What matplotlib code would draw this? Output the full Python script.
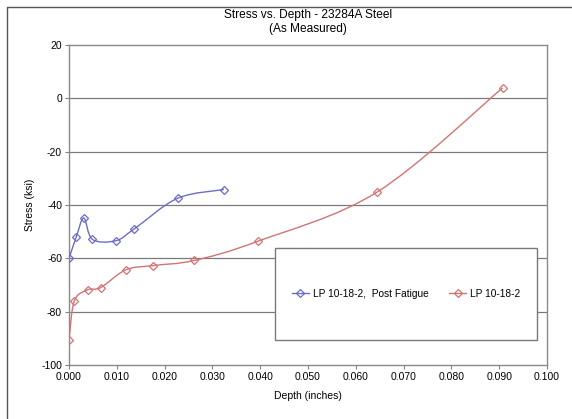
import numpy as np
import matplotlib
matplotlib.use("Agg")
import matplotlib.pyplot as plt
from matplotlib.path import Path
from matplotlib.patches import PathPatch, Rectangle
from matplotlib.lines import Line2D

plt.rcParams['font.family'] = ['Liberation Sans', 'DejaVu Sans']
plt.rcParams['axes.unicode_minus'] = False

# Data
post_depth = [0.0, 0.0015, 0.0031, 0.0049, 0.0098, 0.0137, 0.0227, 0.0324]
post_stress = [-60.0, -52.1, -44.9, -52.9, -53.4, -48.9, -37.5, -34.2]
base_depth = [0.0, 0.0011, 0.0039, 0.0066, 0.0119, 0.0176, 0.0262, 0.0395, 0.0645, 0.0907]
base_stress = [-90.8, -76.0, -71.8, -71.0, -64.3, -62.7, -60.8, -53.6, -35.1, 3.9]
series_labels = ['LP 10-18-2,  Post Fatigue', 'LP 10-18-2']
x_ticks = [0.0, 0.01, 0.02, 0.03, 0.04, 0.05, 0.06, 0.07, 0.08, 0.09, 0.10]
y_ticks = [-100, -80, -60, -40, -20, 0, 20]

blue = '#6c6cc8'
red = '#d27474'

fig = plt.figure(figsize=(5.72, 4.19), dpi=100)
W, H = 572, 419
ax = fig.add_axes([69 / W, 1 - 365 / H, (547 - 69) / W, (365 - 45) / H])
ax.set_xlim(0, 0.1)
ax.set_ylim(-100, 20)
ax.set_xticks(x_ticks)
ax.set_xticklabels([f'{v:.3f}' for v in x_ticks])
ax.set_yticks(y_ticks)
ax.set_yticklabels([str(v) for v in y_ticks])
ax.tick_params(labelsize=7.5, length=3, color='#808080', pad=2)
for s in ax.spines.values():
    s.set_color('#8a8a8a')
    s.set_linewidth(1.0)
for yv in y_ticks[1:-1]:
    ax.axhline(yv, color='#7a7a7a', lw=0.9, zorder=1)

fig.canvas.draw()


def smooth_path(xs, ys):
    pts = ax.transData.transform(np.column_stack([xs, ys]))
    n = len(pts)
    verts = [pts[0]]
    codes = [Path.MOVETO]
    for i in range(n - 1):
        p0 = pts[i - 1] if i > 0 else pts[i]
        p1 = pts[i]
        p2 = pts[i + 1]
        p3 = pts[i + 2] if i + 2 < n else pts[i + 1]
        c1 = p1 + (p2 - p0) / 6.0
        c2 = p2 - (p3 - p1) / 6.0
        verts += [c1, c2, p2]
        codes += [Path.CURVE4] * 3
    verts = ax.transData.inverted().transform(np.array(verts))
    return Path(verts, codes)


ms = 3.6
for xs, ys, c, lab in [(post_depth, post_stress, blue, series_labels[0]),
                       (base_depth, base_stress, red, series_labels[1])]:
    ax.add_patch(PathPatch(smooth_path(xs, ys), fill=False, edgecolor=c, lw=1.0, zorder=3))
    ax.plot(xs, ys, linestyle='none', marker='D', markersize=ms, markerfacecolor='none',
            markeredgecolor=c, markeredgewidth=0.9, zorder=4)
    ax.plot([], [], color=c, lw=1.0, marker='D', markersize=ms, markerfacecolor='none',
            markeredgecolor=c, markeredgewidth=0.9, label=lab)

# legend box
bx0, by0, bx1, by1 = 275, 248, 537, 340
ax.add_artist(Rectangle((bx0 / W, 1 - by1 / H), (bx1 - bx0) / W, (by1 - by0) / H,
                        transform=fig.transFigure, facecolor='white', edgecolor='#7a7a7a',
                        lw=1.0, zorder=5))
leg = fig.legend(loc='center', bbox_to_anchor=((bx0 + bx1) / 2 / W, 1 - 294 / H),
                 ncol=2, frameon=False, fontsize=7.3, handlelength=1.7, columnspacing=2.0,
                 handletextpad=0.4)
leg.set_zorder(6)

ax.set_xlabel('Depth (inches)', fontsize=7.5)
ax.set_ylabel('Stress (ksi)', fontsize=7.5)
ax.yaxis.set_label_coords(-(69 - 30) / (547 - 69), 0.5)
ax.xaxis.set_label_coords(0.5, -(396 - 365) / (365 - 45))
ax.xaxis.label.set_va('center')
ax.yaxis.label.set_va('center')
fig.text(308 / W, 1 - 22 / H, 'Stress vs. Depth - 23284A Steel\n(As Measured)',
         ha='center', va='center', fontsize=8.6, linespacing=1.2)

# outer chart frame (left and top edges visible)
fig.add_artist(Line2D([7 / W, 7 / W, 1.0], [0.0, 1 - 7 / H, 1 - 7 / H],
                      transform=fig.transFigure, color='#555555', lw=1.0))

fig.savefig('out.png', dpi=100)
